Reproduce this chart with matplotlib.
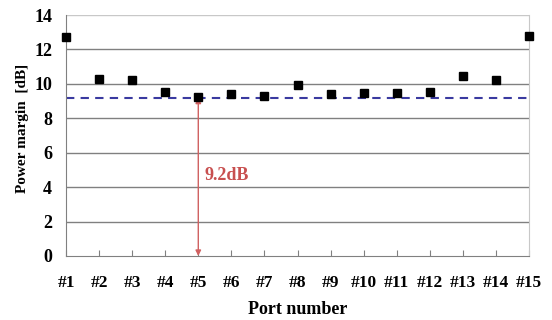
import numpy as np
import matplotlib.pyplot as plt

ports = ["#%d" % i for i in range(1, 16)]
margin = [12.7, 10.27, 10.23, 9.53, 9.22, 9.43, 9.3, 9.94, 9.4, 9.45, 9.45, 9.53, 10.46, 10.2, 12.78]
threshold = 9.2
yticks = [0, 2, 4, 6, 8, 10, 12, 14]

plt.rcParams['font.family'] = ['Liberation Serif', 'DejaVu Serif']
plt.rcParams['font.weight'] = 'bold'

fig = plt.figure(figsize=(5.52, 3.2), dpi=100)
ax = fig.add_axes([66 / 552, 1 - 256 / 320, 463 / 552, 241 / 320])

x = np.arange(1, 16)
ax.set_xlim(1, 15)
ax.set_ylim(0, 14)

for v in yticks[1:-1]:
    ax.axhline(v, color='#808080', lw=1, zorder=1)
ax.axhline(14, color='#c8c8c8', lw=1, zorder=1)

ax.axhline(threshold, color='#3a3aa0', lw=1.5, ls=(0, (4, 3)), zorder=2)

ax.plot(x, margin, 's', color='black', ms=6, zorder=4, clip_on=False)

ax.annotate('', xy=(5, 0), xytext=(5, threshold),
            arrowprops=dict(arrowstyle='<|-|>', color='#d06060', lw=1,
                            mutation_scale=8, shrinkA=0, shrinkB=0), zorder=3)
ax.text(5.2, 4.7, '9.2dB', color='#c85050', fontsize=13, fontweight='bold', va='center')

ax.set_xticks(x)
ax.set_xticklabels(ports, fontsize=12.5, fontweight='bold')
ax.set_yticks(yticks)
ax.set_yticklabels([str(v) for v in yticks], fontsize=13, fontweight='bold')
ax.tick_params(axis='x', direction='in', length=4, color='#808080', pad=14)
ax.tick_params(axis='y', length=0, pad=10)

ax.spines['left'].set_color('#808080')
ax.spines['bottom'].set_color('#808080')
ax.spines['top'].set_visible(False)
ax.spines['right'].set_color('#c8c8c8')

ax.set_xlabel('Port number', fontsize=13, fontweight='bold', labelpad=7)
ax.set_ylabel('Power margin  [dB]', fontsize=11, fontweight='bold', va='center')
ax.yaxis.set_label_coords(-0.095, 0.53)

fig.savefig('out.png', dpi=100)
